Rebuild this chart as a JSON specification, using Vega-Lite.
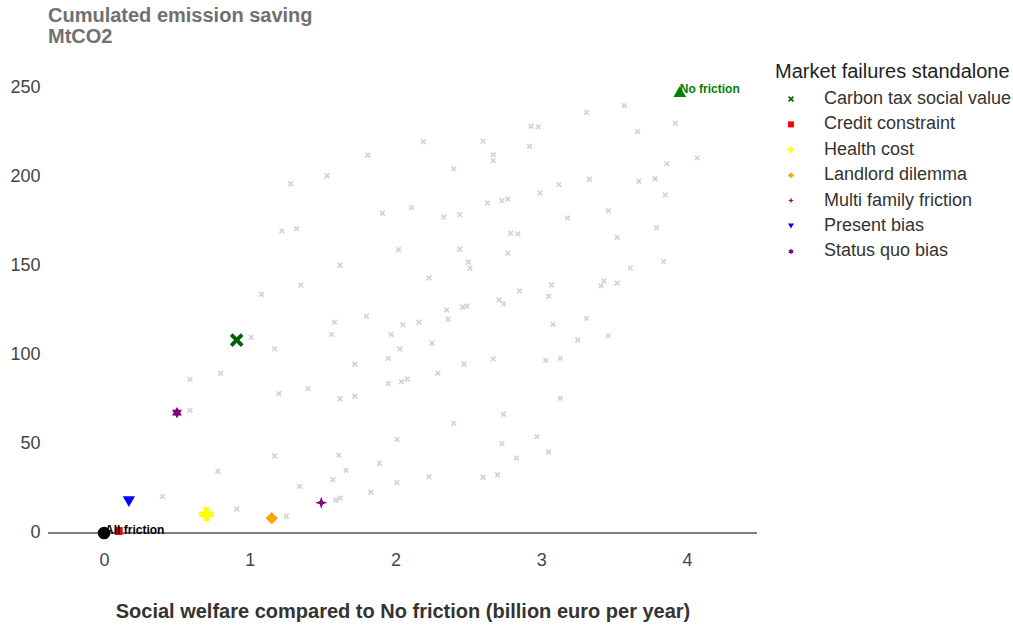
{
  "$schema": "https://vega.github.io/schema/vega-lite/v6.json",
  "width": 709,
  "height": 488,
  "autosize": {"type": "none"},
  "padding": {"left": 48, "top": 60, "right": 256, "bottom": 79},
  "background": "white",
  "config": {
    "view": {"stroke": null},
    "font": "Liberation Sans",
    "axis": {"grid": false, "domain": false, "ticks": false, "labelFont": "Liberation Sans", "titleFont": "Liberation Sans"},
    "legend": {"labelFont": "Liberation Sans", "titleFont": "Liberation Sans"}
  },
  "title": {
    "text": ["Cumulated emission saving", "MtCO2"],
    "anchor": "start",
    "frame": "group",
    "fontSize": 20,
    "fontWeight": "bold",
    "color": "#707070",
    "lineHeight": 21,
    "offset": 13
  },
  "datasets": {
    "grey": [
      {"x": 2.93, "y": 228.5}, {"x": 2.98, "y": 228.1}, {"x": 3.66, "y": 225.5}, {"x": 3.92, "y": 230.2},
      {"x": 2.19, "y": 219.8}, {"x": 2.60, "y": 220.1}, {"x": 2.92, "y": 217.2}, {"x": 2.67, "y": 212.5},
      {"x": 2.67, "y": 209.2}, {"x": 4.07, "y": 210.7}, {"x": 3.86, "y": 207.5}, {"x": 2.40, "y": 204.5},
      {"x": 3.12, "y": 195.7}, {"x": 3.33, "y": 198.7}, {"x": 3.67, "y": 197.6}, {"x": 3.78, "y": 199.0},
      {"x": 2.99, "y": 191.0}, {"x": 3.85, "y": 189.9}, {"x": 2.63, "y": 185.4}, {"x": 2.73, "y": 186.7},
      {"x": 2.77, "y": 187.6}, {"x": 2.11, "y": 182.8}, {"x": 1.91, "y": 179.6}, {"x": 2.33, "y": 177.4},
      {"x": 2.44, "y": 178.8}, {"x": 3.18, "y": 177.0}, {"x": 3.46, "y": 181.1}, {"x": 3.79, "y": 171.5},
      {"x": 2.79, "y": 168.4}, {"x": 2.84, "y": 168.0}, {"x": 3.52, "y": 166.1}, {"x": 2.02, "y": 159.2},
      {"x": 2.44, "y": 159.4}, {"x": 2.77, "y": 157.1}, {"x": 2.50, "y": 152.1}, {"x": 2.51, "y": 148.7},
      {"x": 3.84, "y": 152.4}, {"x": 3.61, "y": 148.9}, {"x": 2.23, "y": 143.3}, {"x": 3.07, "y": 139.3},
      {"x": 3.05, "y": 133.0}, {"x": 2.85, "y": 136.0}, {"x": 3.41, "y": 138.8}, {"x": 3.43, "y": 141.6},
      {"x": 3.52, "y": 140.4}, {"x": 2.71, "y": 130.9}, {"x": 2.74, "y": 128.7}, {"x": 2.35, "y": 125.3},
      {"x": 2.46, "y": 126.8}, {"x": 2.49, "y": 127.5}, {"x": 2.36, "y": 120.1}, {"x": 2.05, "y": 116.9},
      {"x": 2.16, "y": 118.4}, {"x": 1.97, "y": 111.6}, {"x": 3.08, "y": 117.2}, {"x": 3.31, "y": 120.6},
      {"x": 3.46, "y": 110.7}, {"x": 3.25, "y": 108.4}, {"x": 2.25, "y": 106.7}, {"x": 2.03, "y": 103.4},
      {"x": 1.95, "y": 98.1}, {"x": 2.67, "y": 97.8}, {"x": 2.47, "y": 94.8}, {"x": 3.03, "y": 97.0},
      {"x": 3.13, "y": 98.1}, {"x": 2.29, "y": 89.7}, {"x": 1.95, "y": 83.9}, {"x": 2.04, "y": 85.0},
      {"x": 2.08, "y": 86.5}, {"x": 3.13, "y": 75.7}, {"x": 2.74, "y": 66.7}, {"x": 2.40, "y": 61.6},
      {"x": 2.01, "y": 52.6}, {"x": 2.73, "y": 50.2}, {"x": 2.97, "y": 54.1}, {"x": 3.05, "y": 45.5},
      {"x": 2.83, "y": 42.1}, {"x": 1.89, "y": 39.2}, {"x": 2.01, "y": 28.3}, {"x": 2.23, "y": 31.5},
      {"x": 2.60, "y": 31.3}, {"x": 2.70, "y": 32.6}, {"x": 3.31, "y": 236.3}, {"x": 3.57, "y": 240.1},
      {"x": 1.81, "y": 212.2}, {"x": 1.53, "y": 200.7}, {"x": 1.28, "y": 196.2}, {"x": 1.22, "y": 169.7},
      {"x": 1.32, "y": 171.0}, {"x": 1.62, "y": 150.4}, {"x": 1.35, "y": 139.2}, {"x": 1.08, "y": 134.1},
      {"x": 1.80, "y": 121.7}, {"x": 1.58, "y": 118.5}, {"x": 1.56, "y": 111.6}, {"x": 1.01, "y": 109.9},
      {"x": 1.17, "y": 103.4}, {"x": 1.72, "y": 94.8}, {"x": 0.80, "y": 89.7}, {"x": 0.59, "y": 86.3},
      {"x": 1.20, "y": 78.3}, {"x": 1.40, "y": 81.1}, {"x": 1.62, "y": 75.4}, {"x": 1.72, "y": 76.8},
      {"x": 0.59, "y": 68.9}, {"x": 1.17, "y": 43.3}, {"x": 1.61, "y": 43.7}, {"x": 1.66, "y": 35.2},
      {"x": 0.78, "y": 34.7}, {"x": 1.57, "y": 29.9}, {"x": 1.34, "y": 26.2}, {"x": 1.83, "y": 22.9},
      {"x": 0.40, "y": 20.6}, {"x": 1.59, "y": 18.4}, {"x": 1.62, "y": 19.5}, {"x": 0.91, "y": 13.5},
      {"x": 1.25, "y": 9.4}
    ],
    "failures": [
      {"name": "Carbon tax social value", "x": 0.91, "y": 108.4},
      {"name": "Credit constraint", "x": 0.10, "y": 1.1},
      {"name": "Health cost", "x": 0.70, "y": 10.5},
      {"name": "Landlord dilemma", "x": 1.15, "y": 8.3},
      {"name": "Multi family friction", "x": 1.49, "y": 17.0},
      {"name": "Present bias", "x": 0.17, "y": 17.6},
      {"name": "Status quo bias", "x": 0.50, "y": 67.6}
    ],
    "refs": [
      {"name": "No friction", "x": 3.95, "y": 248.0},
      {"name": "All friction", "x": 0.0, "y": 0.0}
    ],
    "zero": [{"y": 0}]
  },
  "encoding": {
    "x": {
      "field": "x", "type": "quantitative",
      "scale": {"domain": [-0.385, 4.48], "nice": false, "zero": false},
      "axis": {
        "title": "Social welfare compared to No friction (billion euro per year)",
        "values": [0, 1, 2, 3, 4],
        "labelFontSize": 18, "labelColor": "#444444", "labelPadding": 3,
        "titleFontSize": 20, "titleFontWeight": "bold", "titleColor": "#333333", "titlePadding": 32
      }
    },
    "y": {
      "field": "y", "type": "quantitative",
      "scale": {"domain": [-8.43, 265.7], "nice": false, "zero": false},
      "axis": {
        "title": null,
        "values": [0, 50, 100, 150, 200, 250],
        "labelFontSize": 18, "labelColor": "#444444", "labelPadding": 8
      }
    }
  },
  "layer": [
    {
      "data": {"name": "zero"},
      "mark": {"type": "rule", "color": "#000000", "strokeWidth": 1},
      "encoding": {"x": null, "y": {"field": "y", "type": "quantitative"}}
    },
    {
      "data": {"name": "grey"},
      "mark": {
        "type": "point", "filled": true, "opacity": 1, "color": "#d3d3d3", "size": 34,
        "shape": "M-1,-0.6L-0.6,-1L0,-0.4L0.6,-1L1,-0.6L0.4,0L1,0.6L0.6,1L0,0.4L-0.6,1L-1,0.6L-0.4,0Z"
      }
    },
    {
      "data": {"name": "failures"},
      "mark": {
        "type": "point", "filled": true, "opacity": 1,
        "size": {"expr": "datum.name === 'Credit constraint' ? 64 : datum.name === 'Health cost' ? 196 : datum.name === 'Carbon tax social value' ? 190 : datum.name === 'Status quo bias' ? 130 : 150"}
      },
      "encoding": {
        "color": {
          "field": "name", "type": "nominal",
          "scale": {
            "domain": ["Carbon tax social value", "Credit constraint", "Health cost", "Landlord dilemma", "Multi family friction", "Present bias", "Status quo bias"],
            "range": ["#006400", "#ff0000", "#ffff00", "#ffa500", "#800080", "#0000ff", "#800080"]
          },
          "legend": {
            "title": "Market failures standalone",
            "orient": "none", "legendX": 727, "legendY": 2,
            "titleFontSize": 20, "titleFontWeight": "normal", "titleColor": "#222222", "titlePadding": 8, "titleLimit": 0,
            "labelFontSize": 18, "labelColor": "#333333", "labelOffset": 24, "labelLimit": 0,
            "symbolSize": 36, "symbolOffset": 7, "rowPadding": 7.4, "symbolStrokeWidth": 0
          }
        },
        "shape": {
          "field": "name", "type": "nominal",
          "scale": {
            "domain": ["Carbon tax social value", "Credit constraint", "Health cost", "Landlord dilemma", "Multi family friction", "Present bias", "Status quo bias"],
            "range": [
              "M-1,-0.6L-0.6,-1L0,-0.4L0.6,-1L1,-0.6L0.4,0L1,0.6L0.6,1L0,0.4L-0.6,1L-1,0.6L-0.4,0Z",
              "square", "cross", "diamond",
              "M0,-1L0.25,-0.25L1,0L0.25,0.25L0,1L-0.25,0.25L-1,0L-0.25,-0.25Z",
              "triangle-down",
              "M0,-1L0.289,-0.5L0.866,-0.5L0.577,0L0.866,0.5L0.289,0.5L0,1L-0.289,0.5L-0.866,0.5L-0.577,0L-0.866,-0.5L-0.289,-0.5Z"
            ]
          }
        }
      }
    },
    {
      "data": {"name": "refs"},
      "transform": [{"filter": "datum.name === 'No friction'"}],
      "layer": [
        {"mark": {"type": "point", "filled": true, "opacity": 1, "shape": "triangle-up", "color": "#008000", "size": 160}},
        {"mark": {"type": "text", "align": "left", "baseline": "middle", "dx": 0, "dy": -3, "fontSize": 12, "fontWeight": "bold", "color": "#008000"},
         "encoding": {"text": {"field": "name"}}}
      ]
    },
    {
      "data": {"name": "refs"},
      "transform": [{"filter": "datum.name === 'All friction'"}],
      "layer": [
        {"mark": {"type": "point", "filled": true, "opacity": 1, "shape": "circle", "color": "#000000", "size": 160}},
        {"mark": {"type": "text", "align": "left", "baseline": "middle", "dx": 1, "dy": -3, "fontSize": 12, "fontWeight": "bold", "color": "#000000"},
         "encoding": {"text": {"field": "name"}}}
      ]
    }
  ]
}
